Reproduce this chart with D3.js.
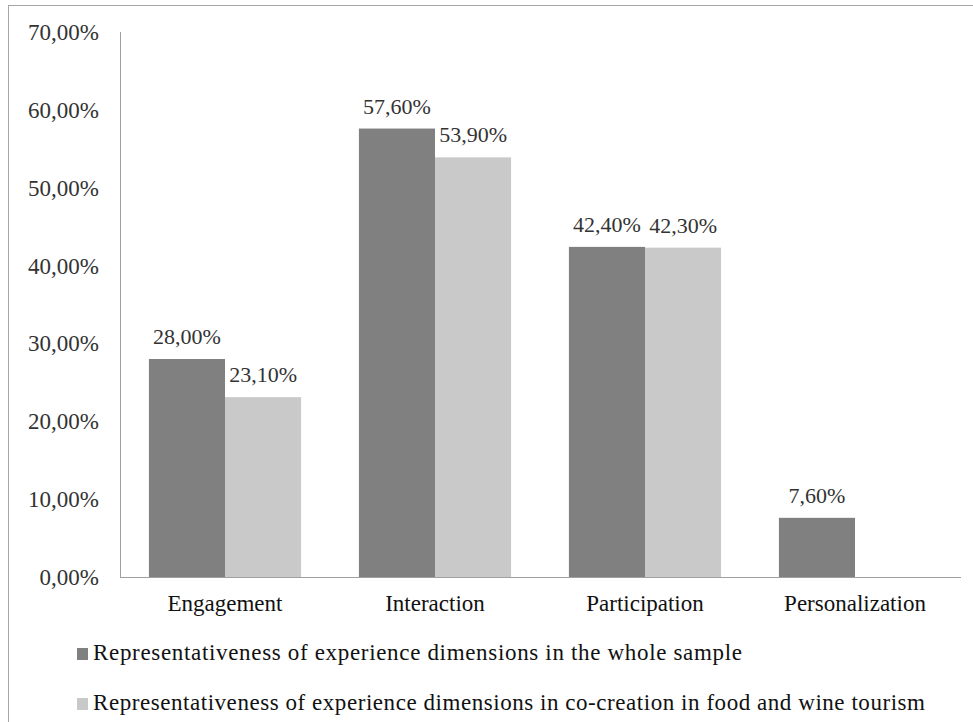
<!DOCTYPE html>
<html>
<head>
<meta charset="utf-8">
<script src="https://cdn.jsdelivr.net/npm/d3@7"></script>
<style>
  body { margin: 0; background: #fff; }
  svg text { font-family: "Liberation Serif", "Times New Roman", serif; }
</style>
</head>
<body>
<svg id="chart" width="973" height="722"></svg>
<script>
// data
const categories = ['Engagement', 'Interaction', 'Participation', 'Personalization'];
const wholeSample = [28.0, 57.6, 42.4, 7.6];
const coCreation = [23.1, 53.9, 42.3, null];
const seriesNames = [
    'Representativeness of experience dimensions in the whole sample',
    'Representativeness of experience dimensions in co-creation in food and wine tourism'];
const yTicks = [0, 10, 20, 30, 40, 50, 60, 70];

const colors = ['#808080', '#c9c9c9'];
const fmt = v => d3.format('.2f')(v).replace('.', ',') + '%';

const svg = d3.select('#chart');

// outer frame (runs off right and bottom edge)
svg.append('rect')
    .attr('x', 8.5).attr('y', 5.5)
    .attr('width', 1000).attr('height', 1000)
    .attr('fill', 'none')
    .attr('stroke', '#a6a6a6');

const plotLeft = 120, plotRight = 960, plotTop = 32, plotBottom = 577;

const y = d3.scaleLinear().domain([0, 70]).range([plotBottom, plotTop]);
const x0 = d3.scaleBand().domain(categories).range([plotLeft, plotRight]);
const x1 = d3.scaleBand().domain([0, 1]).range([0, x0.bandwidth()])
    .paddingInner(0).paddingOuter(0.38);

// tick labels
svg.append('g').selectAll('text')
    .data(yTicks)
    .enter().append('text')
    .attr('x', 99)
    .attr('y', d => y(d) + 8)
    .attr('text-anchor', 'end')
    .attr('font-size', 23)
    .attr('fill', '#333')
    .text(d => fmt(d));

// bars
const series = [wholeSample, coCreation];
series.forEach((vals, si) => {
    const g = svg.append('g');
    const rows = categories.map((c, i) => ({cat: c, v: vals[i]})).filter(d => d.v !== null);
    g.selectAll('rect')
        .data(rows)
        .enter().append('rect')
        .attr('x', d => x0(d.cat) + x1(si))
        .attr('y', d => y(d.v))
        .attr('width', x1.bandwidth())
        .attr('height', d => y(0) - y(d.v))
        .attr('fill', colors[si]);
    g.selectAll('text')
        .data(rows)
        .enter().append('text')
        .attr('x', d => x0(d.cat) + x1(si) + x1.bandwidth() / 2)
        .attr('y', d => y(d.v) - 15)
        .attr('text-anchor', 'middle')
        .attr('font-size', 22)
        .attr('fill', '#333')
        .text(d => fmt(d.v));
});

// axes lines
svg.append('line')
    .attr('x1', plotLeft + 0.5).attr('x2', plotLeft + 0.5)
    .attr('y1', plotTop).attr('y2', plotBottom)
    .attr('stroke', '#a0a0a0');
svg.append('line')
    .attr('x1', plotLeft).attr('x2', plotRight + 1)
    .attr('y1', plotBottom + 0.5).attr('y2', plotBottom + 0.5)
    .attr('stroke', '#a0a0a0');

// category labels
svg.append('g').selectAll('text')
    .data(categories)
    .enter().append('text')
    .attr('x', d => x0(d) + x0.bandwidth() / 2)
    .attr('y', 611)
    .attr('text-anchor', 'middle')
    .attr('font-size', 23)
    .attr('fill', '#111')
    .text(d => d);

// legend
const legend = svg.append('g');
const legendY = [660, 710];
const legendW = [649, 832];
seriesNames.forEach((name, i) => {
    legend.append('rect')
        .attr('x', 77).attr('y', legendY[i] - 12)
        .attr('width', 11).attr('height', 12)
        .attr('fill', colors[i]);
    legend.append('text')
        .attr('x', 93).attr('y', legendY[i])
        .attr('font-size', 23)
        .attr('fill', '#111')
        .attr('textLength', legendW[i])
        .attr('lengthAdjust', 'spacing')
        .text(name);
});
</script>
</body>
</html>
